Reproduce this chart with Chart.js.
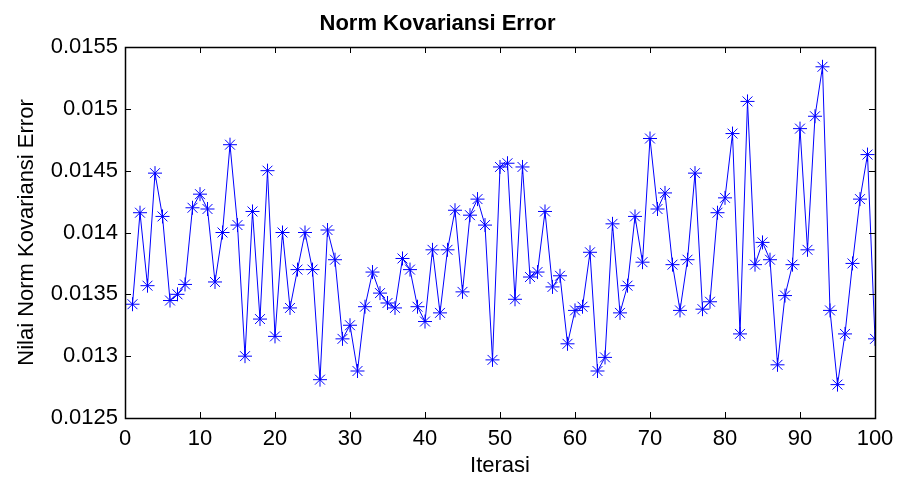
<!DOCTYPE html>
<html>
<head>
<meta charset="utf-8">
<script src="https://cdn.jsdelivr.net/npm/chart.js@4"></script>
<style>
  body { margin: 0; background: #fff; }
  #wrap { width: 899px; height: 481px; }
</style>
</head>
<body>
<div id="wrap"><canvas id="myChart"></canvas></div>
<script>
// values, iterasi 1..100
const normError = [
  0.01342, 0.01416, 0.01357, 0.01448, 0.01413, 0.01345, 0.01350, 0.01358, 0.01420, 0.01431,
  0.01419, 0.01360, 0.01400, 0.01471, 0.01406, 0.01300, 0.01417, 0.01330, 0.01450, 0.01316,
  0.01400, 0.01339, 0.01370, 0.01400, 0.01370, 0.01281, 0.01402, 0.01378, 0.01314, 0.01325,
  0.01288, 0.01340, 0.01368, 0.01351, 0.01343, 0.01339, 0.01379, 0.01370, 0.01340, 0.01328,
  0.01386, 0.01335, 0.01386, 0.01418, 0.01352, 0.01414, 0.01427, 0.01406, 0.01297, 0.01453,
  0.01456, 0.01346, 0.01453, 0.01364, 0.01368, 0.01417, 0.01356, 0.01365, 0.01310, 0.01337,
  0.01340, 0.01384, 0.01288, 0.01299, 0.01407, 0.01335, 0.01357, 0.01413, 0.01376, 0.01476,
  0.01419, 0.01432, 0.01374, 0.01337, 0.01378, 0.01448, 0.01338, 0.01344, 0.01416, 0.01428,
  0.01480, 0.01318, 0.01506, 0.01374, 0.01392, 0.01378, 0.01293, 0.01349, 0.01374, 0.01484,
  0.01386, 0.01494, 0.01534, 0.01337, 0.01277, 0.01318, 0.01375, 0.01427, 0.01463, 0.01314
];
const iterasi = normError.map((v, i) => i + 1);

const xTicks = [0, 10, 20, 30, 40, 50, 60, 70, 80, 90, 100];
const yTicks = [0.0125, 0.013, 0.0135, 0.014, 0.0145, 0.015, 0.0155];

Chart.defaults.font.family = 'Arial, "Liberation Sans", sans-serif';
Chart.defaults.color = '#000';

// matlab style box with ticks pointing inwards
const boxTicks = {
  id: 'boxTicks',
  afterDraw(chart) {
    const { ctx, chartArea: a, scales } = chart;
    const len = 6;
    ctx.save();
    ctx.strokeStyle = '#000';
    ctx.lineWidth = 1;
    ctx.beginPath();
    xTicks.forEach(t => {
      const px = Math.round(scales.x.getPixelForValue(t)) + 0.5;
      ctx.moveTo(px, a.bottom); ctx.lineTo(px, a.bottom - len);
      ctx.moveTo(px, a.top); ctx.lineTo(px, a.top + len);
    });
    yTicks.forEach(t => {
      const py = Math.round(scales.y.getPixelForValue(t)) + 0.5;
      ctx.moveTo(a.left, py); ctx.lineTo(a.left + len, py);
      ctx.moveTo(a.right, py); ctx.lineTo(a.right - len, py);
    });
    ctx.stroke();
    ctx.lineWidth = 1.5;
    ctx.strokeRect(Math.round(a.left) + 0.5, Math.round(a.top) + 0.5,
      Math.round(a.right - a.left), Math.round(a.bottom - a.top));
    ctx.restore();
  }
};

new Chart("myChart", {
  type: "line",
  data: {
    datasets: [{
      data: iterasi.map((x, i) => ({ x: x, y: normError[i] })),
      borderColor: "#0000ff",
      borderWidth: 1,
      pointStyle: "star",
      pointRadius: 7,
      pointBorderColor: "#0000ff",
      pointBorderWidth: 1,
      fill: false,
      tension: 0
    }]
  },
  options: {
    responsive: true,
    maintainAspectRatio: false,
    animation: false,
    layout: { padding: { left: 0, right: 24, top: 0, bottom: 0 } },
    plugins: {
      legend: { display: false },
      tooltip: { enabled: false },
      title: {
        display: true,
        text: "Norm Kovariansi Error",
        color: "#000",
        font: { size: 22, weight: "bold" },
        padding: { top: 11, bottom: 9.6 }
      }
    },
    scales: {
      x: {
        type: "linear",
        min: 0,
        max: 100,
        afterBuildTicks: s => { s.ticks = xTicks.map(v => ({ value: v })); },
        afterFit: s => { s.height = 63; s.paddingLeft = 0; s.paddingRight = 0; },
        grid: { display: false, drawTicks: false },
        border: { display: false },
        ticks: { font: { size: 22 }, padding: 8, maxRotation: 0, callback: v => String(v) },
        title: { display: true, text: "Iterasi", font: { size: 22 }, padding: { top: 0, bottom: 2 } }
      },
      y: {
        min: 0.0125,
        max: 0.0155,
        afterBuildTicks: s => { s.ticks = yTicks.map(v => ({ value: v })); },
        afterFit: s => { s.width = 125; },
        grid: { display: false, drawTicks: false },
        border: { display: false },
        ticks: { font: { size: 22 }, padding: 7, callback: v => String(v) },
        title: { display: true, text: "Nilai Norm Kovariansi Error", font: { size: 22 }, padding: { top: 14, bottom: 0 } }
      }
    }
  },
  plugins: [boxTicks]
});
</script>
</body>
</html>
